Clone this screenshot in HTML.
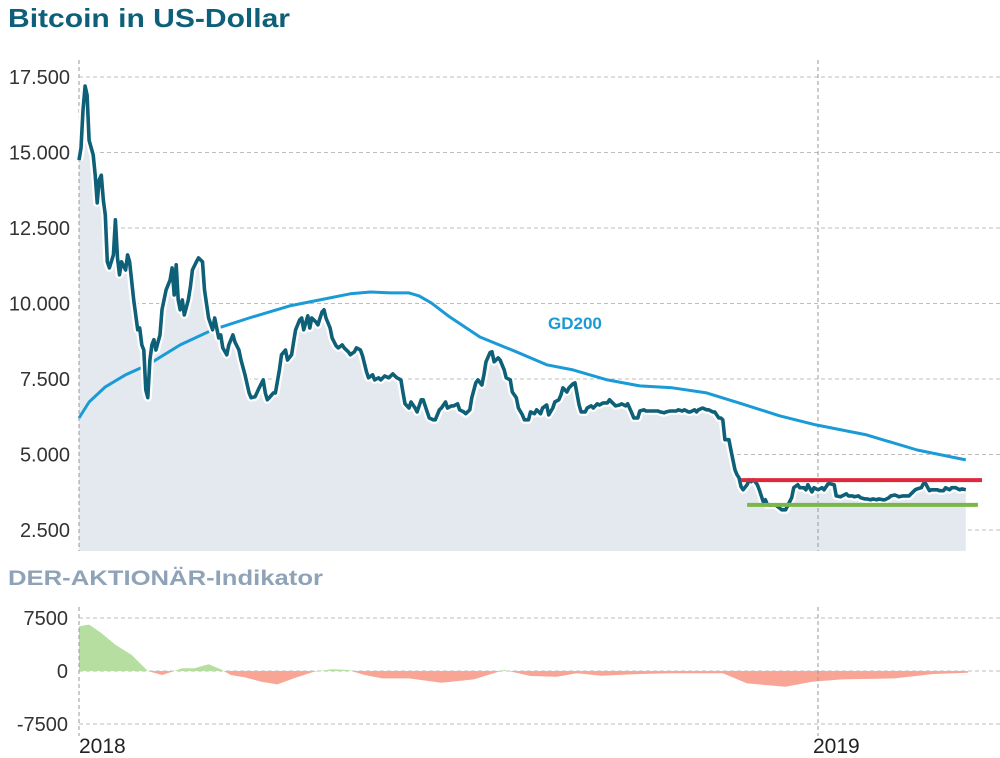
<!DOCTYPE html>
<html><head><meta charset="utf-8">
<style>
body{margin:0;background:#fff;width:1000px;height:758px;overflow:hidden;font-family:"Liberation Sans","DejaVu Sans",sans-serif}
svg{display:block}
</style></head>
<body>
<svg id="chart" width="1000" height="758" viewBox="0 0 1000 758" xmlns="http://www.w3.org/2000/svg">
<defs>
<clipPath id="clipPos"><rect x="0" y="0" width="1000" height="671"/></clipPath>
<clipPath id="clipNeg"><rect x="0" y="671" width="1000" height="100"/></clipPath>
</defs>
<text x="8" y="27" font-size="26" font-weight="bold" fill="#0d5f7a" textLength="282" lengthAdjust="spacingAndGlyphs">Bitcoin in US-Dollar</text>
<text x="8" y="585" font-size="21" font-weight="bold" fill="#8fa3b8" textLength="315" lengthAdjust="spacingAndGlyphs">DER-AKTIONÄR-Indikator</text>
<g id="g-main"></g>
<g id="g-ind"></g>
</svg>
<script>
// ---- data (day offsets from 1 Jan 2018) ----
const priceDays = [0,1,2,3,4,5,7,8,9,10,11,12,13,14,15,17,18,19,20,21,23,24,25,27,29,30,31,32,33,34,35,36,37,38,40,41,43,45,46,47,48,49,50,51,52,54,55,56,58,
59,61,62,64,66,67,69,70,71,73,74,76,77,79,80,82,84,85,87,89,91,92,93,94,96,97,99,100,102,103,105,106,107,109,110,111,113,114,115,117,118,120,121,122,124,125,127,128,130,131,133,134,136,137,139,140,142,143,145,146,148,149,151,153,155,157,159,160,161,163,164,166,167,169,170,172,173,175,176,178,179,181,182,184,185,187,188,190,191,193,194,196,197,199,200,201,203,204,205,207,208,210,211,213,214,216,217,219,220,222,223,225,226,228,229,231,232,234,235,237,238,239,241,242,244,245,247,248,250,251,253,254,256,257,259,261,262,264,265,267,268,270,271,273,274,276,277,279,280,281,283,284,286,287,289,290,292,293,295,296,298,299,301,302,304,305,306,308,310,311,313,314,316,317,318,319,320,321,322,324,325,326,327,328,330,331,332,333,334,335,336,338,339,340,341,343,344,346,347,349,350,352,353,355,356,358,359,360,362,363,365,367,368,370,371,373,374,376,377,379,380,382,383,385,386,388,389,391,392,394,395,397,398,400,401,403,404,405,407,408,410,411,413,414,416,417,418,420,421,422,424,425,427,428,430,431,433,435,436,438];
const priceValues = [14750,15150,16400,17200,16900,15400,14920,14250,13330,14090,14250,13430,12930,11380,11180,11610,12770,11510,10950,11380,11110,11610,11380,10120,9130,9190,8630,8460,7140,6880,8130,8630,8800,8460,8960,9790,10450,10780,11180,10280,11280,10120,9790,10120,9620,10120,10550,11110,11380,
11510,11380,10450,9520,9130,9520,8860,8960,8530,8300,8630,8960,8730,8460,8130,7640,7040,6880,6910,7210,7470,7040,6810,6880,7040,7040,7800,8300,8460,8130,8300,8730,9130,9460,9520,9130,9590,9190,9520,9390,9290,9720,9790,9520,9190,8860,8600,8530,8630,8530,8400,8300,8400,8530,8460,8270,7740,7540,7640,7470,7540,7470,7600,7540,7670,7540,7470,7070,6680,6540,6740,6540,6410,6810,6810,6410,6210,6150,6150,6480,6540,6740,6540,6610,6610,6680,6480,6410,6350,6480,6880,7370,7470,7300,7640,8070,8370,8400,8070,8200,8130,7800,7540,7470,7070,6880,6540,6310,6150,6150,6410,6350,6480,6350,6540,6640,6310,6540,6740,6810,6970,7210,7070,7210,7340,7370,6640,6410,6410,6540,6610,6540,6680,6640,6710,6710,6810,6680,6610,6640,6680,6610,6680,6380,6210,6210,6440,6480,6440,6440,6440,6440,6440,6410,6380,6410,6440,6440,6440,6480,6440,6480,6410,6410,6480,6410,6480,6540,6480,6480,6410,6410,6210,6210,6150,5490,5490,5490,5150,4490,4330,4230,3930,3830,4000,4160,4100,4160,4100,4000,3830,3430,3500,3330,3330,3330,3330,3230,3170,3170,3300,3570,3900,4000,3900,3900,3830,4000,3760,3900,3830,3900,3830,4030,4030,4000,3630,3600,3630,3700,3630,3630,3600,3630,3570,3530,3530,3500,3530,3500,3530,3500,3500,3570,3630,3660,3630,3600,3630,3630,3630,3700,3830,3860,3900,4030,4060,3800,3830,3830,3830,3800,3800,3900,3830,3900,3900,3830,3860,3830,3860];
const gdDays = [0,5,13,23,34,50,66,84,104,119,134,144,154,163,168,174,183,198,216,231,244,261,277,293,310,326,346,364,389,414,438];
const gdValues = [6210,6740,7240,7640,7970,8630,9130,9520,9920,10120,10320,10380,10350,10350,10250,10020,9560,8890,8400,7970,7800,7470,7270,7210,7040,6710,6280,5980,5650,5150,4820];
const resistance = {value:4150, from:327, to:446};
const support = {value:3330, from:330, to:444};
const indDays = [0,5,11,18,26,34,41,46,51,57,64,70,75,82,90,98,106,116,125,133,141,150,163,179,195,210,223,236,246,258,277,292,318,330,349,362,377,403,422,439];
const indValues = [6330,6570,5380,3710,2280,0,-570,-100,380,380,950,240,-570,-900,-1520,-1900,-1050,-100,240,140,-570,-1050,-1050,-1670,-1190,140,-710,-810,-330,-670,-430,-330,-330,-1760,-2240,-1520,-1190,-1050,-430,-240];
const priceTicks = [17500,15000,12500,10000,7500,5000,2500];
const priceTickLabels = ["17.500","15.000","12.500","10.000","7.500","5.000","2.500"];
const indTicks = [7500,0,-7500];
const indTickLabels = ["7500","0","-7500"];
const yearDays = [0,365];
const yearLabels = ["2018","2019"];

// ---- scales ----
const NS="http://www.w3.org/2000/svg";
const xS = d => 79 + d*739/365;
const yP = v => 77 + (17500-v)*453/15000;
const yI = v => 671 - v*53/7500;
function mk(tag, attrs, parent){const e=document.createElementNS(NS,tag);for(const k in attrs)e.setAttribute(k,attrs[k]);parent.appendChild(e);return e;}
const gm=document.getElementById('g-main'), gi=document.getElementById('g-ind');

priceTicks.forEach((t,i)=>{
  const l=mk('line',{x1:79,x2:1000,y1:yP(t),y2:yP(t),stroke:'#bdbdbd','stroke-dasharray':'4,3','stroke-width':1},gm);
  
  
  const tx=mk('text',{x:70,y:yP(t)+7,'text-anchor':'end','font-size':20,fill:'#333'},gm);
  
  
  tx.textContent=priceTickLabels[i];
});
let areaD='M'+xS(priceDays[0])+',551';
priceDays.forEach((d,i)=>{areaD+=' L'+xS(d).toFixed(1)+','+yP(priceValues[i]).toFixed(1);});
areaD+=' L'+xS(priceDays[priceDays.length-1]).toFixed(1)+',551 Z';
const area=mk('path',{d:areaD,fill:'#e4e9f0'},gm);


yearDays.forEach(d=>{
  const v=mk('line',{x1:xS(d),x2:xS(d),y1:60,y2:551,stroke:'#999','stroke-dasharray':'4,3'},gm);
  
  
});
let gdD='';
gdDays.forEach((d,i)=>{gdD+=(i?' L':'M')+xS(d).toFixed(1)+','+yP(gdValues[i]).toFixed(1);});
const gd=mk('path',{d:gdD,fill:'none',stroke:'#1a9ad6','stroke-width':3,'stroke-linejoin':'round'},gm);


const gdl=mk('text',{x:548,y:329,'font-size':17,'font-weight':'bold',fill:'#1a9ad6'},gm);


gdl.textContent='GD200';
let pD='';
priceDays.forEach((d,i)=>{pD+=(i?' L':'M')+xS(d).toFixed(1)+','+yP(priceValues[i]).toFixed(1);});
const halo=mk('path',{d:pD,fill:'none',stroke:'#fff','stroke-width':8,'stroke-linejoin':'round'},gm);


const pl=mk('path',{d:pD,fill:'none',stroke:'#0e5f78','stroke-width':3.6,'stroke-linejoin':'round'},gm);


const rl=mk('line',{x1:xS(resistance.from),x2:xS(resistance.to),y1:yP(resistance.value),y2:yP(resistance.value),stroke:'#e0283c','stroke-width':4},gm);


const sl=mk('line',{x1:xS(support.from),x2:xS(support.to),y1:yP(support.value),y2:yP(support.value),stroke:'#7ab648','stroke-width':4},gm);



indTicks.forEach((t,i)=>{
  const l=mk('line',{x1:79,x2:1000,y1:yI(t),y2:yI(t),stroke:'#bdbdbd','stroke-dasharray':'4,3'},gi);
  
  
  const tx=mk('text',{x:68,y:yI(t)+7,'text-anchor':'end','font-size':20,fill:'#333'},gi);
  
  
  tx.textContent=indTickLabels[i];
});
let iD='M'+xS(indDays[0])+','+yI(0);
indDays.forEach((d,i)=>{iD+=' L'+xS(d).toFixed(1)+','+yI(indValues[i]).toFixed(1);});
iD+=' L'+xS(indDays[indDays.length-1]).toFixed(1)+','+yI(0)+' Z';
const ip=mk('path',{d:iD,fill:'#b5dea0','clip-path':'url(#clipPos)'},gi);


const ineg=mk('path',{d:iD,fill:'#f9a595','clip-path':'url(#clipNeg)'},gi);


yearDays.forEach((d,i)=>{
  const v=mk('line',{x1:xS(d),x2:xS(d),y1:607,y2:736,stroke:'#999','stroke-dasharray':'4,3'},gi);
  
  
  const tx=mk('text',{x:xS(d)+(i?-5:0),y:753,'font-size':21,fill:'#222'},gi);
  
  
  tx.textContent=yearLabels[i];
});
</script>
</body></html>
